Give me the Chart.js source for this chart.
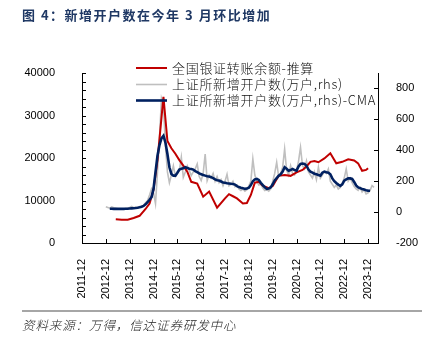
<!DOCTYPE html>
<html><head><meta charset="utf-8">
<script src="https://cdn.jsdelivr.net/npm/chart.js@4.4.0/dist/chart.umd.min.js"></script>
<style>
html,body{margin:0;padding:0;background:#fff;width:442px;height:341px;overflow:hidden;}
#wrap{position:absolute;left:0;top:0;width:442px;height:341px;}
#title{position:absolute;left:22px;top:5px;font:bold 13px "Noto Sans CJK SC";color:#1F3864;letter-spacing:1.5px;white-space:nowrap;line-height:20px;}
#rule{position:absolute;left:22px;top:310px;width:400px;height:2px;background:#A6A6A6;}
#src{position:absolute;left:22px;top:316px;font:italic 12.5px "Noto Sans CJK SC";font-weight:300;color:#222;white-space:nowrap;line-height:18px;letter-spacing:0.9px;}
</style></head>
<body>
<div id="wrap"><canvas id="c" width="442" height="341"></canvas></div>
<div id="title">图 4：新增开户数在今年 3 月环比增加</div>
<div id="rule"></div>
<div id="src">资料来源：万得，信达证券研发中心</div>
<script>
// ---- categories: monthly from 2011-12 to 2024-05 ----
const months = [];
for (let y = 2011, m = 12; !(y === 2024 && m === 6); ) {
  months.push(y + '-' + String(m).padStart(2, '0'));
  m++; if (m > 12) { m = 1; y++; }
}
const tickMonth = '-12';
const leftTickLabels = [0, 10000, 20000, 30000, 40000];
const rightTickLabels = [-200, 0, 200, 400, 600, 800];

const seriesNames = ['全国银证转账余额-推算', '上证所新增开户数(万户,rhs)', '上证所新增开户数(万户,rhs)-CMA'];

// 全国银证转账余额-推算 (left axis), index -> value
const bankTransferIdx = [17,20,23,26,29,32,34,36,38,41,43,45,47,49,51,53,55,58,61,64,68,72,74,76,78,81,83,85,87,89,91,94,96,99,102,105,108,111,113,115,117,119,122,125,128,131,134,137,139,141,143,144];
const bankTransferVal = [5600,5500,5500,5900,6400,8000,9300,12500,19500,34400,24000,22300,21000,19500,18200,16800,14400,14000,10900,12100,8300,10500,11500,11000,10500,9300,9400,11300,14200,14400,13500,12900,13400,15800,16000,15800,16600,17200,18000,19100,19300,19000,19900,21100,18750,19100,19700,19400,18750,17000,17200,17600];

// 上证所新增开户数 (万户), monthly from index 12 (2012-12)
const newAcctStart = 12;
const newAcct = [35,30,25,33,28,25,22,20,22,20,24,26,30,36,28,32,30,33,38,45,60,75,110,150,125,55,260,480,735,690,430,260,190,240,300,230,250,270,355,226,260,300,270,236,260,280,311,230,204,250,376,204,240,220,250,200,230,190,210,170,200,245,170,180,200,165,175,150,140,150,135,145,170,200,344,240,200,175,180,155,140,145,135,150,200,250,322,230,250,290,408,270,240,300,250,240,270,330,419,300,280,330,260,240,220,260,210,290,220,240,260,250,279,200,180,160,175,150,160,183,220,279,200,220,190,165,150,140,160,130,145,118,125,140,172,160];

// CMA, monthly from index 14
const cmaStart = 14;
const newAcctCMA = [22,22,21,21,21,21,21,21,22,22,23,24,25,26,28,31,35,40,50,64,80,97,150,258,365,434,477,494,450,376,290,247,236,236,255,275,280,283,290,285,280,279,275,265,258,250,245,240,236,232,230,226,220,212,206,204,198,192,190,187,185,183,182,178,168,162,158,155,150,152,158,175,200,212,215,208,190,175,160,150,152,160,180,205,220,235,245,262,290,280,268,272,279,272,268,295,312,314,312,300,275,262,255,248,245,240,236,255,262,258,255,245,218,200,188,178,170,180,204,212,219,218,215,195,172,160,155,150,146,142,139,138];

function build(startIdx, vals) {
  const a = new Array(months.length).fill(null);
  vals.forEach((v, k) => { a[startIdx + k] = v; });
  return a;
}
const red = new Array(months.length).fill(null);
bankTransferIdx.forEach((ix, k) => { red[ix] = bankTransferVal[k]; });
const gray = build(newAcctStart, newAcct);
const navy = build(cmaStart, newAcctCMA);

const colors = ['#C00000', '#BFBFBF', '#002060'];
const widths = [2, 1.6, 2.6];

const innerTicks = {
  id: 'innerTicks',
  afterDraw(chart) {
    const ctx = chart.ctx, a = chart.chartArea;
    ctx.save(); ctx.strokeStyle = '#000'; ctx.lineWidth = 1;
    const yl = chart.scales.yL, yr = chart.scales.yR, x = chart.scales.x;
    yl.ticks.forEach(t => { const y = Math.round(yl.getPixelForValue(t.value)) + 0.5; ctx.beginPath(); ctx.moveTo(a.left, y); ctx.lineTo(a.left + 4, y); ctx.stroke(); });
    yr.ticks.forEach(t => { const y = Math.round(yr.getPixelForValue(t.value)) + 0.5; ctx.beginPath(); ctx.moveTo(a.right - 4, y); ctx.lineTo(a.right, y); ctx.stroke(); });
    x.ticks.forEach((t, i) => { if (!t.label) return; const px = Math.round(x.getPixelForTick(i)) + 0.5; ctx.beginPath(); ctx.moveTo(px, a.bottom); ctx.lineTo(px, a.bottom - 4); ctx.stroke(); });
    ctx.restore();
  }
};

const legendPlugin = {
  id: 'customLegend',
  afterDraw(chart) {
    const ctx = chart.ctx;
    const rows = [68, 84.5, 100.5];
    ctx.save();
    chart.data.datasets.forEach((ds, i) => {
      const y = rows[i];
      ctx.strokeStyle = ds.borderColor; ctx.lineWidth = ds.borderWidth;
      ctx.beginPath(); ctx.moveTo(136, y); ctx.lineTo(167, y); ctx.stroke();
      ctx.fillStyle = '#111'; ctx.font = '300 13px "Noto Sans CJK SC"'; ctx.textBaseline = 'middle'; ctx.textAlign = 'left';
      ctx.letterSpacing = '0.7px';
      ctx.fillText(ds.label, 172, y);
    });
    ctx.restore();
  }
};

const tickFont = { family: 'Liberation Sans', size: 11 };

new Chart(document.getElementById('c'), {
  type: 'line',
  data: {
    labels: months,
    datasets: [
      { label: seriesNames[0], data: red, yAxisID: 'yL', borderColor: colors[0], borderWidth: widths[0], pointRadius: 0, spanGaps: true, tension: 0, order: 2 },
      { label: seriesNames[1], data: gray, yAxisID: 'yR', borderColor: colors[1], borderWidth: widths[1], pointRadius: 0, spanGaps: true, tension: 0, order: 3 },
      { label: seriesNames[2], data: navy, yAxisID: 'yR', borderColor: colors[2], borderWidth: widths[2], pointRadius: 0, spanGaps: true, tension: 0, order: 1 }
    ]
  },
  options: {
    responsive: false, animation: false, devicePixelRatio: 1,
    layout: { padding: { top: 73, left: 0, right: 0, bottom: 0 } },
    plugins: { legend: { display: false }, tooltip: { enabled: false } },
    scales: {
      x: {
        type: 'category',
        grid: { display: false },
        border: { display: true, color: '#000', width: 1 },
        ticks: {
          autoSkip: false, minRotation: 90, maxRotation: 90, padding: 8, color: '#000', font: tickFont,
          callback(v, i) { const l = months[i]; return l.endsWith(tickMonth) ? l : null; }
        },
        afterFit(s) { s.height = 98; }
      },
      yL: {
        position: 'left', min: 0, max: 40000,
        grid: { display: false },
        border: { display: true, color: '#000', width: 1 },
        ticks: { stepSize: 2000, autoSkip: false, padding: 19, color: '#000', font: tickFont,
          callback(v) { return leftTickLabels.includes(v) ? String(v) : ''; } },
        afterFit(s) { s.width = 82; }
      },
      yR: {
        position: 'right', min: -200, max: 900,
        grid: { display: false },
        border: { display: true, color: '#000', width: 1 },
        ticks: { stepSize: 200, autoSkip: false, padding: 10, color: '#000', font: tickFont,
          callback(v) { return rightTickLabels.includes(v) ? String(v) : ''; } },
        afterBuildTicks(s) { s.ticks = s.ticks.filter(t => rightTickLabels.includes(t.value)); },
        afterFit(s) { s.width = 64; }
      }
    }
  },
  plugins: [innerTicks, legendPlugin]
});
</script>
</body></html>
